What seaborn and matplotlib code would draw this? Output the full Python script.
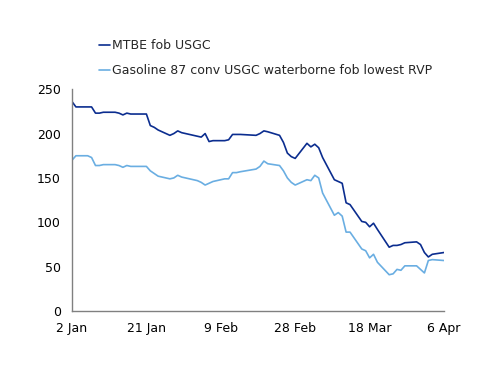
import pandas as pd
import matplotlib
matplotlib.use("Agg")
import matplotlib.pyplot as plt
import seaborn as sns

# business days shown in the chart (2020)
dates = [
    "2020-01-02", "2020-01-03", "2020-01-06", "2020-01-07", "2020-01-08",
    "2020-01-09", "2020-01-10", "2020-01-13", "2020-01-14", "2020-01-15",
    "2020-01-16", "2020-01-17", "2020-01-21", "2020-01-22", "2020-01-23",
    "2020-01-24", "2020-01-27", "2020-01-28", "2020-01-29", "2020-01-30",
    "2020-01-31", "2020-02-03", "2020-02-04", "2020-02-05", "2020-02-06",
    "2020-02-07", "2020-02-10", "2020-02-11", "2020-02-12", "2020-02-13",
    "2020-02-14", "2020-02-18", "2020-02-19", "2020-02-20", "2020-02-21",
    "2020-02-24", "2020-02-25", "2020-02-26", "2020-02-27", "2020-02-28",
    "2020-03-02", "2020-03-03", "2020-03-04", "2020-03-05", "2020-03-06",
    "2020-03-09", "2020-03-10", "2020-03-11", "2020-03-12", "2020-03-13",
    "2020-03-16", "2020-03-17", "2020-03-18", "2020-03-19", "2020-03-20",
    "2020-03-23", "2020-03-24", "2020-03-25", "2020-03-26", "2020-03-27",
    "2020-03-30", "2020-03-31", "2020-04-01", "2020-04-02", "2020-04-03",
    "2020-04-06",
]

mtbe = [
    236, 230, 230, 230, 223, 223, 224, 224, 223, 221,
    223, 222, 222, 209, 207, 204, 198, 200, 203, 201,
    200, 197, 196, 200, 191, 192, 192, 193, 199, 199,
    199, 198, 200, 203, 202, 198, 190, 178, 174, 172,
    189, 185, 188, 184, 173, 148, 146, 144, 122, 120,
    101, 100, 95, 99, 92, 72, 74, 74, 75, 77,
    78, 75, 66, 61, 64, 66,
]

gasoline = [
    170, 175, 175, 173, 164, 164, 165, 165, 164, 162,
    164, 163, 163, 158, 155, 152, 149, 150, 153, 151,
    150, 147, 145, 142, 144, 146, 149, 149, 156, 156,
    157, 160, 163, 169, 166, 164, 158, 150, 145, 142,
    148, 147, 153, 150, 133, 108, 111, 107, 89, 89,
    70, 68, 60, 64, 55, 41, 42, 47, 46, 51,
    51, 47, 43, 57, 58, 57,
]

series_names = ["MTBE fob USGC", "Gasoline 87 conv USGC waterborne fob lowest RVP"]
tick_dates = ["2020-01-02", "2020-01-21", "2020-02-09", "2020-02-28", "2020-03-18", "2020-04-06"]
tick_labels = ["2 Jan", "21 Jan", "9 Feb", "28 Feb", "18 Mar", "6 Apr"]

df = pd.DataFrame({
    "date": pd.to_datetime(dates * 2),
    "value": mtbe + gasoline,
    "series": [series_names[0]] * len(dates) + [series_names[1]] * len(dates),
})

sns.set_style("white")
plt.rcParams["font.family"] = ["DejaVu Sans"]

fig = plt.figure(figsize=(5.0, 3.86), dpi=100)
ax = fig.add_axes([0.144, 0.194, 0.744, 0.575])

sns.lineplot(data=df, x="date", y="value", hue="series",
             palette=["#0b2d8f", "#6aaee2"], linewidth=1.2, ax=ax)

ax.set_xlim(pd.Timestamp(dates[0]), pd.Timestamp(dates[-1]))
ax.set_ylim(0, 250)
ax.set_yticks(range(0, 251, 50))
ax.set_xticks(pd.to_datetime(tick_dates))
ax.set_xticklabels(tick_labels)
ax.set_xlabel("")
ax.set_ylabel("")

for side in ["top", "right"]:
    ax.spines[side].set_visible(False)
for side in ["left", "bottom"]:
    ax.spines[side].set_color("#808080")
    ax.spines[side].set_linewidth(1.0)
ax.tick_params(axis="both", which="both", direction="out", length=4,
               width=1.0, color="#808080", labelsize=9, labelcolor="black")
ax.tick_params(axis="x", pad=4)
ax.tick_params(axis="y", pad=4)

handles, labels = ax.get_legend_handles_labels()
ax.get_legend().remove()
fig.legend(handles, labels, loc="upper left", bbox_to_anchor=(0.198, 0.898),
           frameon=False, fontsize=9, handlelength=0.9, handletextpad=0.15,
           labelspacing=0.95, borderpad=0, borderaxespad=0)

fig.savefig("out.png", dpi=100)
